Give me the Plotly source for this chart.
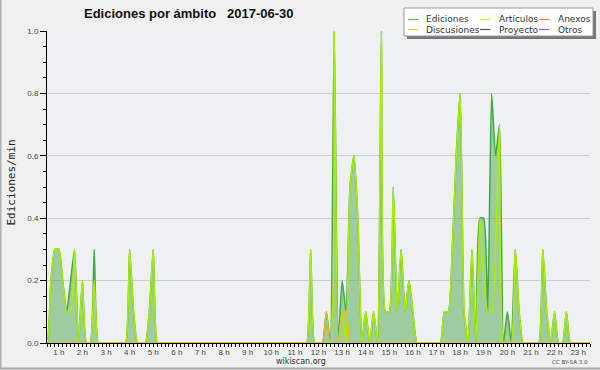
import plotly.graph_objects as go

# ---------------- data (edits per minute, 10-minute bins, 6 per hour) ----------------
hours = list(range(24))
hour_labels = [f"{h} h" for h in range(1, 24)]

ediciones_rows = [
    [0, 0, 0, 0, 0.2, 0.3],      # 0 h
    [0.3, 0.2, 0.1, 0.2, 0.3, 0],  # 1 h
    [0.2, 0, 0, 0.3, 0, 0],      # 2 h
    [0, 0, 0, 0, 0, 0],          # 3 h
    [0.3, 0.1, 0, 0, 0, 0.1],    # 4 h
    [0.3, 0, 0, 0, 0, 0],        # 5 h
    [0, 0, 0, 0, 0, 0],          # 6 h
    [0, 0, 0, 0, 0, 0],          # 7 h
    [0, 0, 0, 0, 0, 0],          # 8 h
    [0, 0, 0, 0, 0, 0],          # 9 h
    [0, 0, 0, 0, 0, 0],          # 10 h
    [0, 0, 0, 0, 0.3, 0],        # 11 h
    [0, 0, 0.1, 0, 1.0, 0],      # 12 h
    [0.2, 0.1, 0.5, 0.6, 0.4, 0],  # 13 h
    [0.1, 0, 0.1, 0, 1.0, 0.1],  # 14 h
    [0.1, 0.5, 0.1, 0.3, 0.1, 0.2],  # 15 h
    [0.1, 0, 0, 0, 0, 0],        # 16 h
    [0, 0, 0.1, 0.1, 0.3, 0.6],  # 17 h
    [0.8, 0.1, 0, 0.3, 0, 0.4],  # 18 h
    [0.4, 0.1, 0.8, 0.6, 0.7, 0],  # 19 h
    [0.1, 0, 0.3, 0.1, 0, 0],    # 20 h
    [0, 0, 0, 0.3, 0.1, 0],      # 21 h
    [0.1, 0, 0, 0.1, 0, 0],      # 22 h
    [0, 0, 0, 0, 0, 0],          # 23 h
]

articulos_rows = [
    [0, 0, 0, 0, 0.2, 0.3],
    [0.3, 0.2, 0.1, 0.1, 0.3, 0],
    [0.2, 0, 0, 0.2, 0, 0],
    [0, 0, 0, 0, 0, 0],
    [0.3, 0.1, 0, 0, 0, 0.1],
    [0.3, 0, 0, 0, 0, 0],
    [0, 0, 0, 0, 0, 0],
    [0, 0, 0, 0, 0, 0],
    [0, 0, 0, 0, 0, 0],
    [0, 0, 0, 0, 0, 0],
    [0, 0, 0, 0, 0, 0],
    [0, 0, 0, 0, 0.3, 0],
    [0, 0, 0, 0, 1.0, 0],
    [0.1, 0, 0.5, 0.6, 0.4, 0],
    [0.1, 0, 0.1, 0, 1.0, 0.1],
    [0.1, 0.5, 0.1, 0.3, 0.1, 0.2],
    [0.1, 0, 0, 0, 0, 0],
    [0, 0, 0.1, 0.1, 0.3, 0.6],
    [0.8, 0.1, 0, 0.3, 0, 0.4],
    [0.2, 0.1, 0.1, 0.3, 0.7, 0],
    [0, 0, 0.3, 0.1, 0, 0],
    [0, 0, 0, 0.3, 0.1, 0],
    [0.1, 0, 0, 0.1, 0, 0],
    [0, 0, 0, 0, 0, 0],
]

discusiones_rows = [[0] * 6 for _ in hours]
discusiones_rows[12] = [0, 0, 0.1, 0, 0, 0]
discusiones_rows[13] = [0.1, 0.1, 0, 0, 0, 0]

legend_names = ["Ediciones", "Artículos", "Anexos", "Discusiones", "Proyecto", "Otros"]
legend_colors = ["#55bb55", "#c4f53a", "#ff7a45", "#ffcc33", "#555555", "#9955ff"]

# ---------------- flatten ----------------
x = [h + i / 6 for h in hours for i in range(6)]
ediciones = [v for row in ediciones_rows for v in row]
articulos = [v for row in articulos_rows for v in row]
discusiones = [v for row in discusiones_rows for v in row]

W, H = 600, 370
ML, MR, MT, MB = 47, 10, 31, 27
PW, PH = W - ML - MR, H - MT - MB


def px(v):
    return (v - ML) / PW


def py(v):
    return (H - MB - v) / PH


fig = go.Figure()
fig.add_trace(go.Scatter(
    x=x, y=ediciones, name="Ediciones", mode="lines",
    line=dict(color="#3faa3f", width=1.5, shape="spline", smoothing=0.5),
    fill="tozeroy", fillcolor="rgba(60,160,60,0.45)", showlegend=False,
    hoverinfo="skip"))
fig.add_trace(go.Scatter(
    x=x, y=articulos, name="Artículos", mode="lines",
    line=dict(color="#aaee00", width=1.5, shape="spline", smoothing=0.5),
    showlegend=False, hoverinfo="skip"))
fig.add_trace(go.Scatter(
    x=x, y=discusiones, name="Discusiones", mode="lines",
    line=dict(color="#f2b81c", width=1.3, shape="spline", smoothing=0.5),
    showlegend=False, hoverinfo="skip"))

tickfont = dict(family="Liberation Sans", size=8, color="#444")
fig.update_xaxes(
    range=[0.5, 23.5], tickmode="array", tickvals=list(range(1, 24)), ticktext=hour_labels,
    ticks="outside", ticklen=3, tickcolor="black", tickwidth=1, ticklabelstandoff=-2,
    showline=True, linecolor="black", linewidth=1, showgrid=False, zeroline=False,
    tickfont=tickfont,
    minor=dict(tickmode="linear", tick0=0, dtick=1 / 6, ticks="outside", ticklen=3,
               tickcolor="black", showgrid=False),
)
fig.update_yaxes(
    range=[0, 1.0], tickmode="linear", tick0=0, dtick=0.2, tickformat=".1f",
    ticks="outside", ticklen=6, tickcolor="black",
    showline=True, linecolor="black", linewidth=1, showgrid=True, gridcolor="#cccccc",
    gridwidth=1, zeroline=False, tickfont=tickfont,
    minor=dict(tickmode="linear", tick0=0, dtick=0.05, ticks="outside", ticklen=3,
               tickcolor="black", showgrid=False),
)

shapes = []
annotations = []

# frame of the image (left and bottom)
shapes.append(dict(type="line", xref="paper", yref="paper", x0=px(0.75), x1=px(0.75),
                   y0=py(0), y1=py(368.5), line=dict(color="#b0b0b0", width=1.5)))
shapes.append(dict(type="line", xref="paper", yref="paper", x0=px(0), x1=px(600),
                   y0=py(368.5), y1=py(368.5), line=dict(color="#a8a8a8", width=2)))

# legend box with shadow
shapes.append(dict(type="rect", xref="paper", yref="paper", x0=px(407), x1=px(596),
                   y0=py(39), y1=py(11), fillcolor="#777777", line=dict(width=0)))
shapes.append(dict(type="rect", xref="paper", yref="paper", x0=px(404), x1=px(593),
                   y0=py(36), y1=py(8), fillcolor="white", line=dict(color="#999999", width=1)))

line_x = [408, 480, 539]
text_x = [424, 496.5, 555.5]
row_y = [19.5, 29.5]
for i, (name, col) in enumerate(zip(legend_names, legend_colors)):
    c, r = i % 3, i // 3
    shapes.append(dict(type="line", xref="paper", yref="paper",
                       x0=px(line_x[c]), x1=px(line_x[c] + 10.5),
                       y0=py(row_y[r]), y1=py(row_y[r]), line=dict(color=col, width=1.2)))
    annotations.append(dict(text=name, xref="paper", yref="paper", x=px(text_x[c]),
                            y=py(row_y[r]), xanchor="left", yanchor="middle", showarrow=False,
                            font=dict(family="DejaVu Sans", size=9, color="#333")))

# title
annotations.append(dict(text="Ediciones por ámbito\u00a0\u00a0\u00a02017-06-30", xref="paper",
                        yref="paper", x=px(188.5), y=py(13.5), xanchor="center",
                        yanchor="middle", showarrow=False,
                        font=dict(family="Liberation Sans", size=13, color="#111",
                                  weight="bold")))
# y title
annotations.append(dict(text="Ediciones/min", xref="paper", yref="paper", x=px(10.5),
                        y=py(183), xanchor="center", yanchor="middle", textangle=-90,
                        showarrow=False,
                        font=dict(family="DejaVu Sans Mono", size=11, color="#222")))
# footer
annotations.append(dict(text="wikiscan.org", xref="paper", yref="paper", x=px(300.5),
                        y=py(361.5), xanchor="center", yanchor="middle", showarrow=False,
                        font=dict(family="DejaVu Sans", size=8, color="#333")))
annotations.append(dict(text="CC BY-SA 3.0", xref="paper", yref="paper", x=px(589.5),
                        y=py(362), xanchor="right", yanchor="middle", showarrow=False,
                        font=dict(family="DejaVu Sans", size=5.5, color="#444")))

fig.update_layout(
    width=W, height=H, margin=dict(l=ML, r=MR, t=MT, b=MB),
    paper_bgcolor="#f0f0f0", plot_bgcolor="#eef0f2",
    shapes=shapes, annotations=annotations, showlegend=False,
)

fig.write_html("out.html", config={"displayModeBar": False},
               post_script="document.body.style.margin='0';document.body.style.overflow='hidden';")
